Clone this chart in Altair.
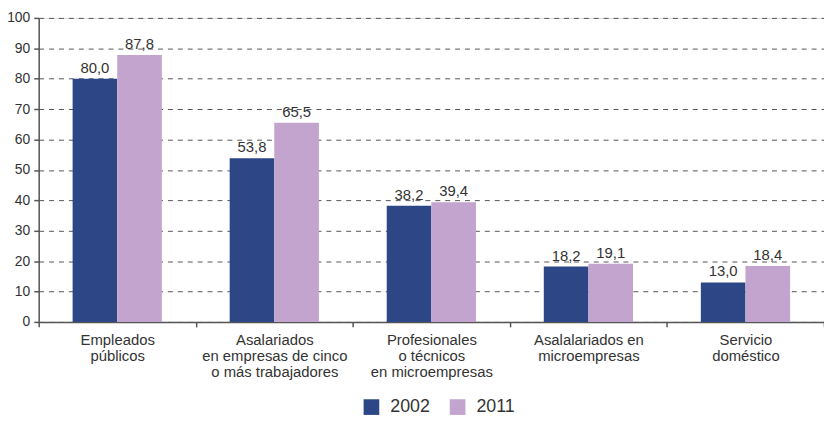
import altair as alt
import pandas as pd

categories = [
    "Empleados|públicos",
    "Asalariados|en empresas de cinco|o más trabajadores",
    "Profesionales|o técnicos|en microempresas",
    "Asalalariados en|microempresas",
    "Servicio|doméstico",
]
years = ["2002", "2011"]
values_2002 = [80.0, 53.8, 38.2, 18.2, 13.0]
values_2011 = [87.8, 65.5, 39.4, 19.1, 18.4]
colors = ["#2D4686", "#C3A4CE"]
y_ticks = list(range(0, 101, 10))

rows = []
for c, a, b in zip(categories, values_2002, values_2011):
    rows.append({"cat": c, "year": years[0], "value": a})
    rows.append({"cat": c, "year": years[1], "value": b})
df = pd.DataFrame(rows)

FONT = "Liberation Sans, Arial, Helvetica, sans-serif"

x = alt.X(
    "cat:N",
    sort=categories,
    scale=alt.Scale(paddingInner=0, paddingOuter=0),
    axis=alt.Axis(
        title=None,
        labelExpr="split(datum.label, '|')",
        labelAngle=0,
        labelFontSize=15,
        labelLineHeight=16,
        labelColor="#333333",
        labelFont=FONT,
        labelPadding=6,
        labelBaseline="top",
        labelOverlap=False,
        labelBound=False,
        tickBand="extent",
        tickSize=5,
        tickColor="#555555",
        tickWidth=1.5,
        domainColor="#555555",
        domainWidth=1.5,
        grid=False,
    ),
)
xoff = alt.XOffset("year:N", sort=years, scale=alt.Scale(paddingInner=0, paddingOuter=0.76))
y = alt.Y(
    "value:Q",
    scale=alt.Scale(domain=[0, 100], nice=False),
    axis=alt.Axis(
        title=None,
        values=y_ticks,
        labelFontSize=14,
        labelColor="#333333",
        labelFont=FONT,
        labelPadding=4,
        tickSize=5,
        tickColor="#555555",
        tickWidth=1.5,
        domainColor="#555555",
        domainWidth=1.5,
        grid=True,
        gridDash=[5, 5],
        gridColor="#555555",
        gridWidth=1,
    ),
)

base = alt.Chart(df)
bars = base.mark_bar().encode(
    x=x,
    xOffset=xoff,
    y=y,
    color=alt.Color(
        "year:N",
        sort=years,
        scale=alt.Scale(domain=years, range=colors),
        legend=alt.Legend(
            title=None,
            orient="none",
            legendX=327,
            legendY=384,
            direction="horizontal",
            symbolType="square",
            symbolSize=250,
            symbolStrokeWidth=0,
            labelFontSize=18,
            labelFont=FONT,
            labelColor="#333333",
            columnPadding=18,
            labelOffset=10,
        ),
    ),
)
labels = base.transform_calculate(
    txt="replace(format(datum.value, '.1f'), '.', ',')"
).mark_text(
    baseline="alphabetic", dy=-6, fontSize=15, font=FONT, color="#333333"
).encode(x=x, xOffset=xoff, y=y, text="txt:N")

chart = (
    alt.layer(bars, labels)
    .properties(
        width=793,
        height=307,
        autosize=alt.AutoSizeParams(type="none"),
        padding={"left": 31, "top": 8, "right": 0, "bottom": 93},
    )
    .configure_view(stroke=None)
    .configure(background="white")
)
chart.save("out.html", embed_options={"renderer": "svg", "actions": False})
